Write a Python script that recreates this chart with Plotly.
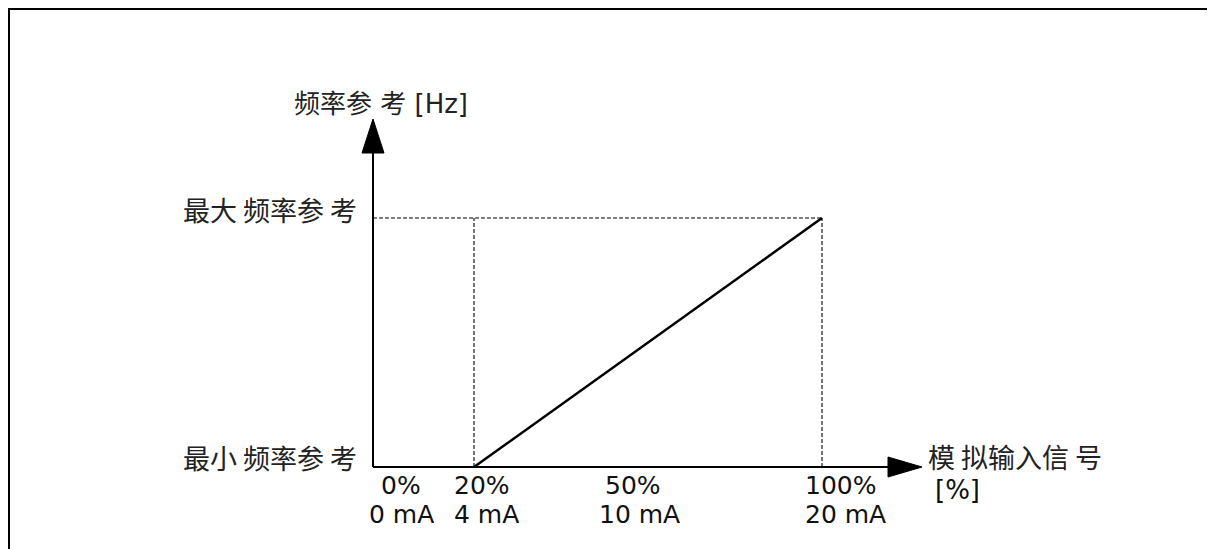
import plotly.graph_objects as go

# ---- data (schematic) ----
signal_pct = [20, 100]          # analog input signal [%] where the ramp starts / ends
freq_ref = [0, 1]               # 0 = min frequency reference, 1 = max frequency reference
tick_pct = [0, 20, 50, 100]
tick_pct_labels = ["0%", "20%", "50%", "100%"]
tick_ma_labels = ["0 mA", "4 mA", "10 mA", "20 mA"]
y_title = "频率参 考 [Hz]"
x_title_1 = "模 拟输入信 号"
x_title_2 = "[%]"
y_max_label = "最大 频率参 考"
y_min_label = "最小 频率参 考"

OFF = 8                      # page body margin
W, H = 1215 - OFF, 549 - OFF
# pixel geometry of the schematic (page pixels)
PX20, PX100 = 474, 822
PY_MIN, PY_MAX = 467, 218
ppx = (PX100 - PX20) / (signal_pct[1] - signal_pct[0])
ppy = PY_MIN - PY_MAX
xmin = signal_pct[0] - (PX20 - OFF) / ppx
xmax = xmin + W / ppx
ymax = (PY_MIN - OFF) / ppy
ymin = ymax - H / ppy


def X(px):
    return xmin + (px - OFF) / ppx


def Y(py):
    return ymax - (py - OFF) / ppy


AX_X = X(373)   # y-axis position
FONT = "DejaVu Sans, Noto Sans CJK SC"
CJK = "Noto Sans CJK SC, DejaVu Sans"

fig = go.Figure()

# dashed guide lines
dash_style = dict(color="black", width=1.1, dash="4px,2px")
fig.add_trace(go.Scatter(x=[AX_X, signal_pct[1]], y=[freq_ref[1], freq_ref[1]],
                         mode="lines", line=dash_style, hoverinfo="skip"))
for xv in signal_pct:
    fig.add_trace(go.Scatter(x=[xv, xv], y=[freq_ref[0], freq_ref[1]],
                             mode="lines", line=dash_style, hoverinfo="skip"))

# main ramp
fig.add_trace(go.Scatter(x=signal_pct, y=freq_ref, mode="lines",
                         line=dict(color="black", width=2.5), hoverinfo="skip"))

shapes = []
# frame (top and left borders)
shapes.append(dict(type="line", x0=X(8), y0=Y(9), x1=X(1215), y1=Y(9),
                   line=dict(color="black", width=2)))
shapes.append(dict(type="line", x0=X(9), y0=Y(9), x1=X(9), y1=Y(549),
                   line=dict(color="black", width=2)))
# axes
shapes.append(dict(type="line", x0=AX_X, y0=Y(467), x1=AX_X, y1=Y(150),
                   line=dict(color="black", width=2)))
shapes.append(dict(type="line", x0=AX_X, y0=Y(467), x1=X(890), y1=Y(467),
                   line=dict(color="black", width=2)))
# arrowheads
shapes.append(dict(type="path",
                   path=f"M {X(362)},{Y(153)} L {X(384)},{Y(153)} L {X(373)},{Y(119)} Z",
                   fillcolor="black", line=dict(color="black", width=1)))
shapes.append(dict(type="path",
                   path=f"M {X(888)},{Y(457)} L {X(888)},{Y(477)} L {X(922)},{Y(467)} Z",
                   fillcolor="black", line=dict(color="black", width=1)))

annotations = []


def txt(text, x, y, xanchor="left", family=FONT, size=26, color="#111", height=None):
    a = dict(text=text, x=x, y=y, xref="x", yref="y",
             xanchor=xanchor, yanchor="middle", showarrow=False,
             font=dict(family=family, size=size, color=color))
    if height:
        a["height"] = height
    annotations.append(a)


txt(y_title, X(292), Y(104), size=26, color="#222")
txt(y_max_label, X(359), Y(209), xanchor="right", family=CJK, size=27, color="#222")
txt(y_min_label, X(359), Y(457), xanchor="right", family=CJK, size=27, color="#222")
txt(x_title_1, X(926), Y(456), family=CJK, size=27, color="#222")
txt(x_title_2, X(933), Y(490))

# tick labels (schematic offsets in pixels)
pct_left = [379, 452, 603, 803]
ma_left = [367, 452, 597, 803]
for i, v in enumerate(tick_pct):
    txt(tick_pct_labels[i], X(pct_left[i]), Y(485), size=25, height=27)
    txt(tick_ma_labels[i], X(ma_left[i]), Y(514), size=25, height=27)

fig.update_layout(
    width=W, height=H,
    margin=dict(l=0, r=0, t=0, b=0),
    paper_bgcolor="white", plot_bgcolor="white",
    showlegend=False,
    xaxis=dict(range=[xmin, xmax], visible=False, fixedrange=True),
    yaxis=dict(range=[ymin, ymax], visible=False, fixedrange=True),
    shapes=shapes, annotations=annotations,
)

fig.write_html("out.html")
